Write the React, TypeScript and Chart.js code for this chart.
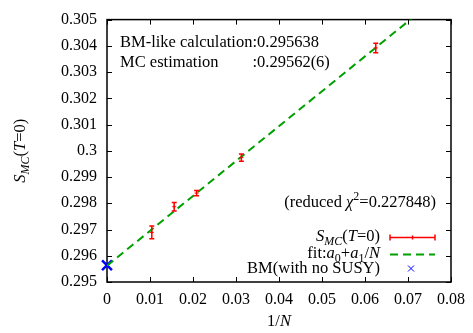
import React, { useEffect, useRef } from "react";
import { Chart, registerables } from "chart.js";
Chart.register(...registerables);

// ---- data ----
const invN = [0.0104167, 0.015625, 0.0208333, 0.03125, 0.0625];
const sMC = [0.29689, 0.29787, 0.29839, 0.29974, 0.30392];
const sErr = [0.00024, 0.00016, 0.0001, 0.00014, 0.00018];
const fitA0 = 0.29562;
const fitA1 = 0.133;
const fitXRange = [0, 0.08];
const bmX = [0];
const bmY = [0.295638];
const xTicks = [0, 0.01, 0.02, 0.03, 0.04, 0.05, 0.06, 0.07, 0.08];
const yTicks = [0.295, 0.296, 0.297, 0.298, 0.299, 0.3, 0.301, 0.302, 0.303, 0.304, 0.305];

const FONT = "'Liberation Serif', 'DejaVu Serif', serif";
const RED = "#ff0000";
const GREEN = "#00a000";
const BLUE = "#0000ff";
const TXT = 16.5;

type Seg = { t: string; i?: boolean; sub?: boolean; sup?: boolean };

function segFont(s: Seg, size: number) {
  const sz = s.sub || s.sup ? Math.round(size * 0.72) : size;
  return `${s.i ? "italic " : ""}${sz}px ${FONT}`;
}
function richWidth(ctx: CanvasRenderingContext2D, segs: Seg[], size: number) {
  let w = 0;
  for (const s of segs) {
    ctx.font = segFont(s, size);
    w += ctx.measureText(s.t).width;
  }
  return w;
}
function drawRich(
  ctx: CanvasRenderingContext2D,
  segs: Seg[],
  x: number,
  y: number,
  align: "left" | "right" | "center",
  size = TXT
) {
  const w = richWidth(ctx, segs, size);
  let cx = align === "left" ? x : align === "right" ? x - w : x - w / 2;
  ctx.textAlign = "left";
  ctx.textBaseline = "middle";
  ctx.fillStyle = "#000";
  for (const s of segs) {
    ctx.font = segFont(s, size);
    const dy = s.sub ? size * 0.3 : s.sup ? -size * 0.35 : 0;
    ctx.fillText(s.t, cx, y + dy);
    cx += ctx.measureText(s.t).width;
  }
}

const sLabel: Seg[] = [
  { t: "S", i: true },
  { t: "MC", i: true, sub: true },
  { t: "(" },
  { t: "T", i: true },
  { t: "=0)" },
];

const decoPlugin = {
  id: "deco",
  beforeDatasetsDraw(chart: any) {
    const { ctx, chartArea: a, scales } = chart;
    const xs = scales.x, ys = scales.y;
    ctx.save();
    ctx.strokeStyle = "#000";
    ctx.lineWidth = 1;
    for (const v of xTicks) {
      const px = Math.round(xs.getPixelForValue(v)) + 0.5;
      ctx.beginPath();
      ctx.moveTo(px, a.bottom);
      ctx.lineTo(px, a.bottom - 5);
      ctx.moveTo(px, a.top);
      ctx.lineTo(px, a.top + 5);
      ctx.stroke();
    }
    for (const v of yTicks) {
      const py = Math.round(ys.getPixelForValue(v)) + 0.5;
      ctx.beginPath();
      ctx.moveTo(a.left, py);
      ctx.lineTo(a.left + 5, py);
      ctx.moveTo(a.right, py);
      ctx.lineTo(a.right - 5, py);
      ctx.stroke();
    }
    ctx.lineWidth = 1.5;
    ctx.strokeRect(a.left, a.top, a.right - a.left, a.bottom - a.top);
    ctx.restore();
  },
  afterDatasetsDraw(chart: any) {
    const { ctx, chartArea: a, scales } = chart;
    const xs = scales.x, ys = scales.y;
    ctx.save();
    // error bars
    ctx.strokeStyle = RED;
    ctx.lineWidth = 1.5;
    for (let i = 0; i < invN.length; i++) {
      const px = xs.getPixelForValue(invN[i]);
      const y1 = ys.getPixelForValue(sMC[i] + sErr[i]);
      const y2 = ys.getPixelForValue(sMC[i] - sErr[i]);
      ctx.beginPath();
      ctx.moveTo(px, y1);
      ctx.lineTo(px, y2);
      ctx.moveTo(px - 2.5, y1);
      ctx.lineTo(px + 2.5, y1);
      ctx.moveTo(px - 2.5, y2);
      ctx.lineTo(px + 2.5, y2);
      ctx.stroke();
    }
    // annotations
    const l1 = "BM-like calculation";
    drawRich(ctx, [{ t: l1 + ":0.295638" }], 120, 43, "left");
    ctx.font = `${TXT}px ${FONT}`;
    const colonX = 120 + ctx.measureText(l1).width;
    drawRich(ctx, [{ t: "MC estimation" }], 120, 63, "left");
    drawRich(ctx, [{ t: ":0.29562(6)" }], colonX, 63, "left");
    drawRich(
      ctx,
      [{ t: "(reduced " }, { t: "χ", i: true }, { t: "2", sup: true }, { t: "=0.227848)" }],
      436,
      203,
      "right"
    );
    // legend
    const lx = 380;
    drawRich(ctx, sLabel, lx, 237, "right");
    drawRich(
      ctx,
      [
        { t: "fit:" },
        { t: "a", i: true },
        { t: "0", sub: true },
        { t: "+" },
        { t: "a", i: true },
        { t: "1", sub: true },
        { t: "/" },
        { t: "N", i: true },
      ],
      lx,
      254,
      "right"
    );
    drawRich(ctx, [{ t: "BM(with no SUSY)" }], lx, 269, "right");
    // legend samples
    ctx.strokeStyle = RED;
    ctx.lineWidth = 1.5;
    ctx.beginPath();
    ctx.moveTo(390, 237.5);
    ctx.lineTo(435, 237.5);
    ctx.moveTo(390, 234.5);
    ctx.lineTo(390, 240.5);
    ctx.moveTo(435, 234.5);
    ctx.lineTo(435, 240.5);
    ctx.moveTo(412.5, 235.5);
    ctx.lineTo(412.5, 239.5);
    ctx.stroke();
    ctx.strokeStyle = GREEN;
    ctx.lineWidth = 2;
    ctx.setLineDash([8, 5]);
    ctx.beginPath();
    ctx.moveTo(390, 254.5);
    ctx.lineTo(435, 254.5);
    ctx.stroke();
    ctx.setLineDash([]);
    ctx.strokeStyle = BLUE;
    ctx.lineWidth = 1;
    ctx.beginPath();
    ctx.moveTo(408, 265.5);
    ctx.lineTo(414, 271.5);
    ctx.moveTo(414, 265.5);
    ctx.lineTo(408, 271.5);
    ctx.stroke();
    // axis titles
    drawRich(ctx, [{ t: "1/" }, { t: "N", i: true }], (a.left + a.right) / 2, 322, "center");
    ctx.translate(21, (a.top + a.bottom) / 2);
    ctx.rotate(-Math.PI / 2);
    drawRich(ctx, sLabel, 0, 0, "center");
    ctx.restore();
  },
};

function fmt(v: number) {
  return String(Number(v.toFixed(3)));
}

export default function App() {
  const ref = useRef<HTMLCanvasElement>(null);
  useEffect(() => {
    if (!ref.current) return;
    const chart = new Chart(ref.current, {
      type: "scatter",
      data: {
        datasets: [
          {
            label: "S_MC(T=0)",
            data: invN.map((x, i) => ({ x, y: sMC[i] })),
            pointStyle: "cross",
            pointRadius: 2,
            borderColor: RED,
            backgroundColor: RED,
            borderWidth: 1,
            showLine: false,
          },
          {
            label: "fit",
            type: "line",
            data: fitXRange.map((x) => ({ x, y: fitA0 + fitA1 * x })),
            borderColor: GREEN,
            borderWidth: 2,
            borderDash: [8, 5],
            pointRadius: 0,
            fill: false,
          } as any,
          {
            label: "BM(with no SUSY)",
            data: bmX.map((x, i) => ({ x, y: bmY[i] })),
            pointStyle: "crossRot",
            pointRadius: 7,
            borderColor: BLUE,
            backgroundColor: BLUE,
            borderWidth: 2.5,
            clip: false as any,
          },
        ],
      },
      options: {
        responsive: false,
        animation: false,
        layout: { padding: { top: 16, right: 20, left: 0, bottom: 0 } },
        plugins: { legend: { display: false }, tooltip: { enabled: false } },
        scales: {
          x: {
            type: "linear",
            min: 0,
            max: 0.08,
            grid: { display: false, drawTicks: false },
            border: { display: false },
            afterFit: (s: any) => {
              s.height = 51;
            },
            afterBuildTicks: (s: any) => {
              s.ticks = xTicks.map((v) => ({ value: v }));
            },
            ticks: {
              padding: 8,
              color: "#000",
              font: { family: FONT, size: 16 },
              maxRotation: 0,
              autoSkip: false,
              callback: (v: any) => fmt(Number(v)),
            },
          },
          y: {
            type: "linear",
            min: 0.295,
            max: 0.305,
            grid: { display: false, drawTicks: false },
            border: { display: false },
            afterFit: (s: any) => {
              s.width = 107;
            },
            afterBuildTicks: (s: any) => {
              s.ticks = yTicks.map((v) => ({ value: v }));
            },
            ticks: {
              padding: 10,
              color: "#000",
              font: { family: FONT, size: 16 },
              autoSkip: false,
              callback: (v: any) => fmt(Number(v)),
            },
          },
        },
      },
      plugins: [decoPlugin],
    });
    return () => chart.destroy();
  }, []);
  return (
    <div style={{ position: "fixed", left: 0, top: 0, width: 473, height: 333, background: "#fff" }}>
      <canvas ref={ref} width={473} height={333} style={{ display: "block" }} />
    </div>
  );
}
